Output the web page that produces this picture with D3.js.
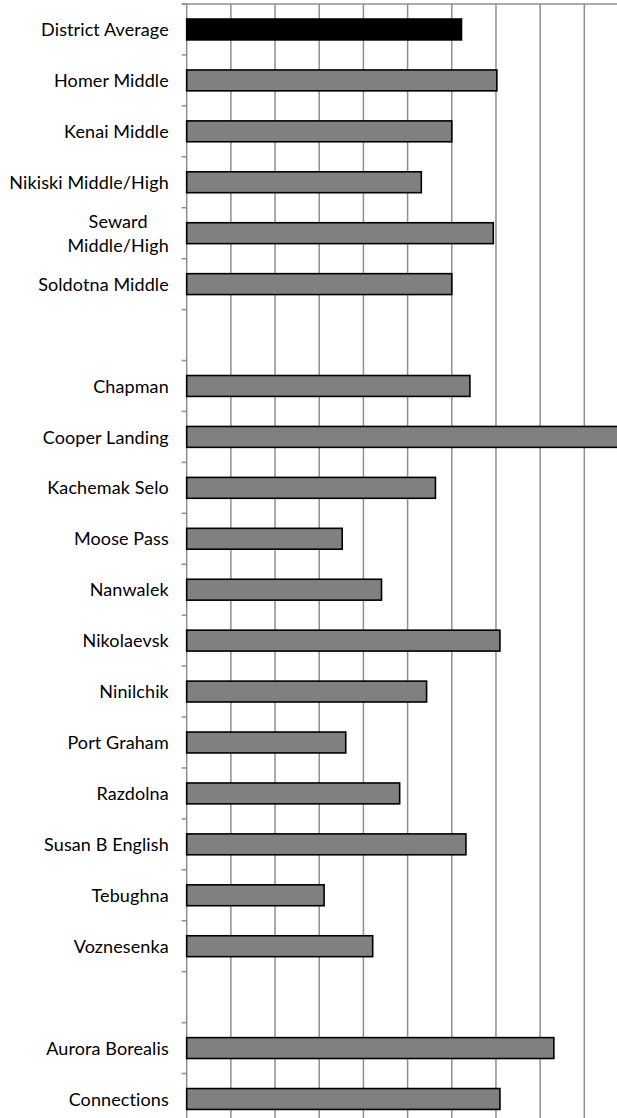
<!DOCTYPE html>
<html>
<head>
<meta charset="utf-8">
<script src="https://cdn.jsdelivr.net/npm/d3@7"></script>
<style>
  html, body { margin: 0; padding: 0; background: #fff; overflow: hidden; }
  svg { display: block; }
  .lbl { font-family: Lato, "Open Sans", sans-serif; font-size: 18px; letter-spacing: 0.1px; fill: #000; }
</style>
</head>
<body>
<svg id="chart" width="617" height="1118"></svg>
<script>
const categories = ["District Average", "Homer Middle", "Kenai Middle", "Nikiski Middle/High",
  "Seward\nMiddle/High", "Soldotna Middle", "", "Chapman", "Cooper Landing", "Kachemak Selo",
  "Moose Pass", "Nanwalek", "Nikolaevsk", "Ninilchik", "Port Graham", "Razdolna",
  "Susan B English", "Tebughna", "Voznesenka", "", "Aurora Borealis", "Connections"];
const values = [62.2, 70.2, 60.0, 53.1, 69.4, 60.0, null, 64.1, 100, 56.3,
  35.2, 44.1, 70.9, 54.3, 36.0, 48.2, 63.2, 31.1, 42.1, null, 83.1, 70.9];
const highlight = ["District Average"];
const xTicks = [0, 10, 20, 30, 40, 50, 60, 70, 80, 90, 100];

(function () {
const svg = d3.select("#chart");
const left = 186.7, plotTop = 4, step = 44.18, rowH = 50.93;

const x = d3.scaleLinear().domain([0, 100]).range([left, left + step * 10]);
const y = d3.scaleBand().domain(d3.range(categories.length))
  .range([plotTop, plotTop + rowH * categories.length])
  .paddingInner(0.59).paddingOuter(0.295);

const gridColor = "#8f8f8f";

svg.append("g").selectAll("line").data(xTicks.slice(1)).join("line")
  .attr("x1", d => x(d)).attr("x2", d => x(d))
  .attr("y1", plotTop).attr("y2", 1118)
  .attr("stroke", gridColor).attr("stroke-width", 1.5);

svg.append("line").attr("x1", left - 5).attr("x2", 617)
  .attr("y1", plotTop).attr("y2", plotTop)
  .attr("stroke", gridColor).attr("stroke-width", 1.5);

svg.append("line").attr("x1", left).attr("x2", left)
  .attr("y1", plotTop).attr("y2", 1118)
  .attr("stroke", gridColor).attr("stroke-width", 1.5);
const bounds = d3.range(categories.length + 1).map(i => plotTop + i * y.step());
svg.append("g").selectAll("line").data(bounds).join("line")
  .attr("x1", left - 5).attr("x2", left)
  .attr("y1", d => d).attr("y2", d => d)
  .attr("stroke", gridColor).attr("stroke-width", 1.5);

const rows = categories.map((c, i) => ({ c, i, v: values[i] })).filter(d => d.v != null);
svg.append("g").selectAll("rect").data(rows).join("rect")
  .attr("x", x(0))
  .attr("y", d => y(d.i))
  .attr("width", d => x(d.v) - x(0))
  .attr("height", y.bandwidth())
  .attr("fill", d => highlight.includes(d.c) ? "#000" : "#808080")
  .attr("stroke", "#000").attr("stroke-width", 1.6);

const labX = 168.8;
const lg = svg.append("g");
categories.forEach((c, i) => {
  if (!c) return;
  const cy = y(i) + y.bandwidth() / 2;
  const lines = c.split("\n");
  const lh = 24;
  const t = lg.append("text").attr("class", "lbl")
    .attr("text-anchor", lines.length > 1 ? "middle" : "end");
  if (lines.length === 1) {
    t.attr("x", labX).attr("y", cy).attr("dy", "0.37em").text(c);
  } else {
    const tmp = lg.append("text").attr("class", "lbl").text(lines.reduce((a, b) => a.length > b.length ? a : b));
    const w = tmp.node().getComputedTextLength();
    tmp.remove();
    const cx = labX - w / 2;
    lines.forEach((ln, k) => {
      t.append("tspan").attr("x", cx)
        .attr("y", cy + (k - (lines.length - 1) / 2) * lh)
        .attr("dy", "0.37em").text(ln);
    });
  }
});
})();
</script>
</body>
</html>
